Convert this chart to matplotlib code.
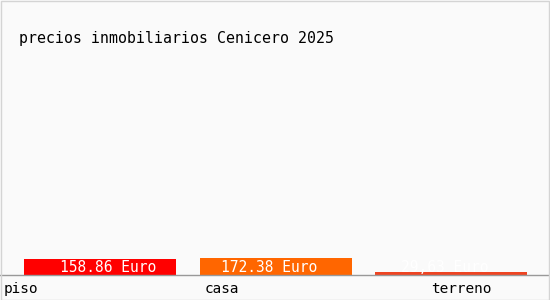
import matplotlib
matplotlib.use("Agg")
import matplotlib.pyplot as plt
from matplotlib.patches import Rectangle

# data
categories = ["piso", "casa", "terreno"]
values = [158.86, 172.38, 29.63]
value_labels = ["158.86 Euro", "172.38 Euro", "29,63 Euro"]
colors = ["#ff0000", "#ff6600", "#ee4422"]
title = "precios inmobiliarios Cenicero 2025"

W, H = 550, 300
fig = plt.figure(figsize=(W / 100, H / 100), dpi=100)
fig.patch.set_facecolor("#fafafa")
fig.patches.append(Rectangle((0.5 / W, 0.5 / H), 1 - 1.5 / W, 1 - 1.5 / H,
                             transform=fig.transFigure, fill=False,
                             edgecolor="#d4d4d4", linewidth=1))

font = "DejaVu Sans Mono"

# axes: baseline at y=275 px, bars centred at 100, 275.5, 451 px
base_px = 275
top_px = 60
ax = fig.add_axes([0, 1 - base_px / H, 1, (base_px - top_px) / H])
ax.set_facecolor("none")
step = 175.5
ax.set_xlim(-100 / step, (W - 100) / step)
per_px = 158.86 / 16
ax.set_ylim(0, (base_px - top_px) * per_px)

x = range(len(categories))
ax.bar(x, values, width=152 / step, color=colors, linewidth=0)
label_shift = [8.5, -6.5, -6.5]  # px, value text is not quite centred
for i, (lab, dx) in enumerate(zip(value_labels, label_shift)):
    ax.text(i + dx / step, 7 * per_px, lab, ha="center", va="center",
            color="white", fontsize=10.5, family=font, weight="medium")

for s in ["top", "left", "right"]:
    ax.spines[s].set_visible(False)
ax.spines["bottom"].set_color("#999999")
ax.spines["bottom"].set_linewidth(1)
ax.set_xticks([])
ax.set_yticks([])

# category labels
label_px = [4, 205, 431]
for lab, px in zip(categories, label_px):
    fig.text(px / W, 1 - 289 / H, lab, ha="left", va="center",
             fontsize=10.4, family=font, color="black")

fig.text(19 / W, 1 - 39 / H, title, ha="left", va="center",
         fontsize=10.7, family=font, color="black")

fig.savefig("out.png", dpi=100, facecolor=fig.get_facecolor())
